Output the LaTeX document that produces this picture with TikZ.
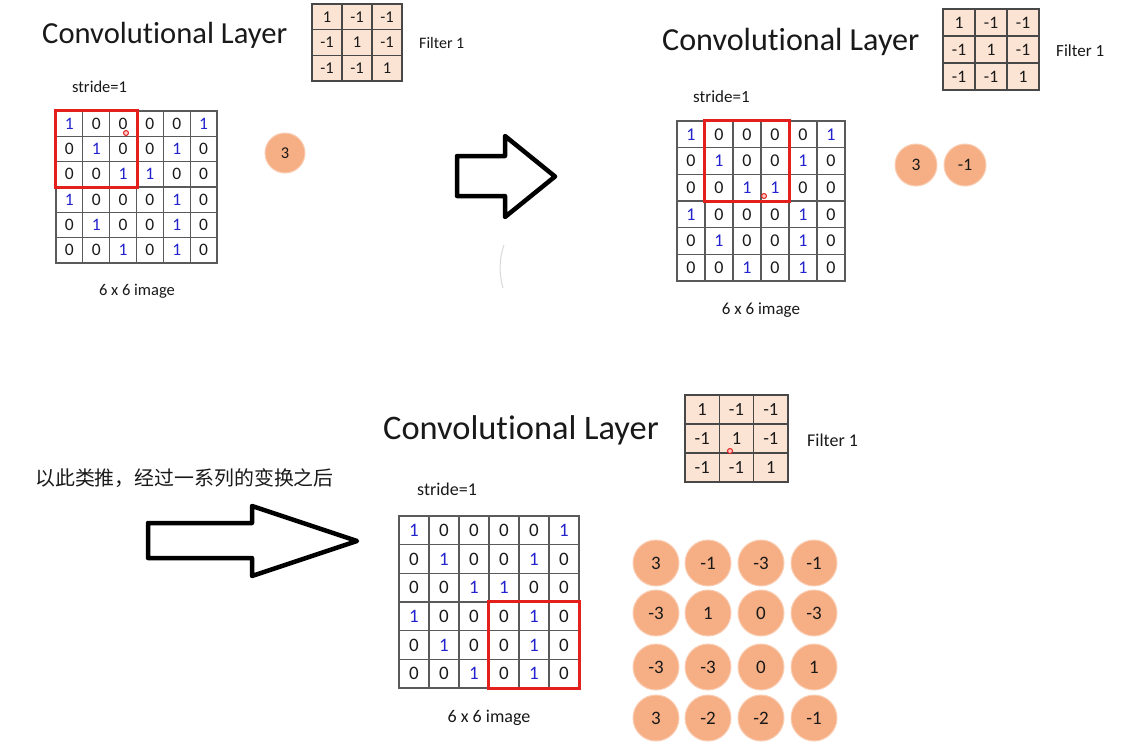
\documentclass[tikz,border=0pt]{standalone}
\usepackage{fontspec}
\setmainfont{Carlito}[Ligatures=NoCommon]
\newfontfamily\cjk{Noto Sans CJK SC}
\definecolor{filterfill}{RGB}{252,228,212}
\definecolor{circfill}{RGB}{246,174,132}
\definecolor{circdraw}{RGB}{250,206,180}
\definecolor{gridgray}{RGB}{90,90,90}
\definecolor{digblue}{RGB}{35,35,205}
\definecolor{boxred}{RGB}{228,32,28}
\definecolor{ink}{RGB}{25,25,25}
\newcommand\fs[1]{\fontsize{#1}{#1}\selectfont}
\tikzset{
  cell/.style={rectangle, draw=gridgray, line width=1.3pt, inner sep=0pt, text=ink},
  fcell/.style={cell, fill=filterfill, draw=gridgray!80!black},
  outcirc/.style={circle, fill=circfill, draw=circdraw, line width=1pt, inner sep=0pt, text=ink},
  redbox/.style={draw=boxred, line width=3pt},
  bigarrow/.style={draw=black, line width=4.5pt, line join=round, fill=white},
  label/.style={inner sep=0pt, text=ink},
  pointer/.style={circle, draw=boxred, fill=boxred!25, line width=1pt, inner sep=0pt, minimum size=5pt}
}
% #1 prefix, #2 left, #3 top, #4 cell w, #5 cell h, #6 font size
\newcommand\imggrid[6]{%
  \foreach \row [count=\r] in {{1,0,0,0,0,1},{0,1,0,0,1,0},{0,0,1,1,0,0},{1,0,0,0,1,0},{0,1,0,0,1,0},{0,0,1,0,1,0}}{
    \foreach \v [count=\c] in \row {
      \node[cell, minimum width=#4pt, minimum height=#5pt, font=\fs{#6}] (#1-\r-\c)
        at ({#2+(\c-0.5)*#4},{#3+(\r-0.5)*#5}) {\ifnum\v=1 \textcolor{digblue}{\v}\else\v\fi};
    }}}
\newcommand\filtgrid[6]{%
  \foreach \row [count=\r] in {{1,-1,-1},{-1,1,-1},{-1,-1,1}}{
    \foreach \v [count=\c] in \row {
      \node[fcell, minimum width=#4pt, minimum height=#5pt, font=\fs{#6}] (#1-\r-\c)
        at ({#2+(\c-0.5)*#4},{#3+(\r-0.5)*#5}) {\v};
    }}}
\begin{document}
\begin{tikzpicture}[x=1pt,y=-1pt]
\useasboundingbox[fill=white] (0,0) rectangle (1148,750);

% ---------- Panel A (top left) ----------
\node[label, anchor=west, font=\fs{30.6}] (titleA) at (42,35) {Convolutional Layer};
\filtgrid{fA}{312}{4}{30}{25.67}{16.5}
\node[label, anchor=west, font=\fs{16}] (filtA) at (419,43) {Filter 1};
\node[label, anchor=west, font=\fs{16.5}] (strideA) at (72,87) {stride=1};
\imggrid{A}{56}{111}{26.83}{25.33}{17.5}
\draw[redbox] (A-1-1.north west) rectangle (A-3-3.south east);
\node[label, font=\fs{16.5}] (capA) at (137,291) {6 x 6 image};
\node[outcirc, minimum size=40pt, font=\fs{16.5}] (oA1) at (285,153) {3};
\node[pointer] (pA) at (126,133) {};

% ---------- arrow 1 ----------
\draw[bigarrow] (457,156) -- (505,156) -- (505,136) -- (555,176.5) -- (505,217) -- (505,196) -- (457,196) -- cycle;
\draw[gray!30, line width=1pt] (504,245) .. controls (499,258) and (499,275) .. (503,288);

% ---------- Panel B (top right) ----------
\node[label, anchor=west, font=\fs{32.1}] (titleB) at (662,42) {Convolutional Layer};
\filtgrid{fB}{943}{9}{32}{27}{17.5}
\node[label, anchor=west, font=\fs{17}] (filtB) at (1056,51) {Filter 1};
\node[label, anchor=west, font=\fs{17}] (strideB) at (693,97) {stride=1};
\imggrid{B}{677}{121}{28}{26.67}{18}
\draw[redbox] (B-1-2.north west) rectangle (B-3-4.south east);
\node[label, font=\fs{17}] (capB) at (761,310) {6 x 6 image};
\node[outcirc, minimum size=42pt, font=\fs{17.5}] (oB1) at (916,165) {3};
\node[outcirc, minimum size=42pt, font=\fs{17.5}] (oB2) at (965,165) {-1};
\node[pointer] (pB) at (764,196) {};

% ---------- text + arrow 2 ----------
\node[label, anchor=west, font=\cjk\fs{19.9}] (note) at (35,478) {以此类推，经过一系列的变换之后};
\draw[bigarrow] (148,523) -- (252,523) -- (252,506) -- (357,541) -- (252,576) -- (252,558) -- (148,558) -- cycle;

% ---------- Panel C (bottom) ----------
\node[label, anchor=west, font=\fs{34.4}] (titleC) at (383,430) {Convolutional Layer};
\filtgrid{fC}{685}{395}{34.33}{29}{18.5}
\node[label, anchor=west, font=\fs{18}] (filtC) at (807,440) {Filter 1};
\node[label, anchor=west, font=\fs{18}] (strideC) at (417,489) {stride=1};
\imggrid{C}{399}{516}{30}{28.67}{19}
\draw[redbox] (C-4-4.north west) rectangle (C-6-6.south east);
\node[label, font=\fs{18}] (capC) at (489,718) {6 x 6 image};
\node[pointer] (pC) at (730,451) {};
\foreach \row [count=\r] in {{3,-1,-3,-1},{-3,1,0,-3},{-3,-3,0,1},{3,-2,-2,-1}}{
  \foreach \v [count=\c] in \row {
    \pgfmathsetmacro\cx{{656,708,761,814}[\c-1]}
    \pgfmathsetmacro\cy{{563,613,667,718}[\r-1]}
    \node[outcirc, minimum size=46pt, font=\fs{19}] (oC-\r-\c) at (\cx,\cy) {\v};
  }}
\end{tikzpicture}
\end{document}
